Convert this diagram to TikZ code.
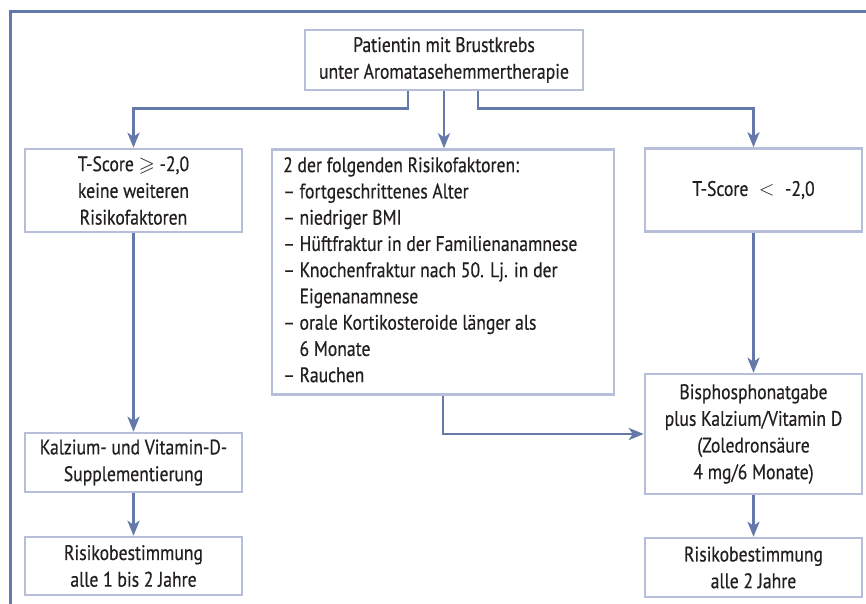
\documentclass[tikz,border=0pt]{standalone}
\usepackage{amssymb}
\usepackage{fontspec}
\setmainfont[FakeStretch=0.84,FakeBold=0.5]{PT Sans}
\usetikzlibrary{arrows.meta}
\definecolor{framec}{HTML}{6478AA}
\definecolor{boxline}{HTML}{B6BEDA}
\definecolor{txt}{HTML}{231F20}
\begin{document}
\begin{tikzpicture}[x=1pt,y=-1pt,
  box/.style={draw=boxline, line width=2.5pt, inner sep=0pt, align=center, text=txt,
    font=\fontsize{21}{26.7}\selectfont},
  conn/.style={draw=framec, line width=2.8pt, -{Stealth[length=15pt,width=12pt,inset=4pt]}},
  lbl/.style={inner sep=0pt, text=txt, font=\fontsize{21}{26.25}\selectfont},
]
\useasboundingbox (0,0) rectangle (866,603);
% outer frame (right and bottom edges outside the picture)
\draw[draw=framec, line width=3pt] (10,610) -- (10,11) -- (875,11);

\node[box, minimum width=278pt, minimum height=60pt] (top) at (444,60)
  {Patientin mit Brustkrebs\\unter Aromatasehemmertherapie};
\node[box, minimum width=217pt, minimum height=83pt] (tsl) at (133.5,190.5)
  {T-Score $\geqslant$ -2,0\\keine weiteren\\Risikofaktoren};
\node[box, minimum width=342pt, minimum height=245pt] (mid) at (443,272) {};
\node[lbl, anchor=north west, align=left] (midtext) at (283,157)
  {2 der folgenden Risikofaktoren:\\
   – fortgeschrittenes Alter\\
   – niedriger BMI\\
   – Hüftfraktur in der Familienanamnese\\
   – Knochenfraktur nach 50. Lj. in der\\
   \hphantom{– }Eigenanamnese\\
   – orale Kortikosteroide länger als\\
   \hphantom{– }6 Monate\\
   – Rauchen};
\node[box, minimum width=217pt, minimum height=83pt] (tsr) at (753.5,190)
  {T-Score $\;<\;$ -2,0};
\node[box, minimum width=217pt, minimum height=59pt] (kal) at (133.5,462.5)
  {Kalzium- und Vitamin-D-\\Supplementierung};
\node[box, minimum width=217pt, minimum height=58pt] (r1) at (133.5,566)
  {Risikobestimmung\\alle 1 bis 2 Jahre};
\node[box, minimum width=217pt, minimum height=120pt] (bis) at (753.5,434)
  {Bisphosphonatgabe\\plus Kalzium/Vitamin D\\(Zoledronsäure\\4 mg/6 Monate)};
\node[box, minimum width=217pt, minimum height=59pt] (r2) at (753.5,567.5)
  {Risikobestimmung\\alle 2 Jahre};

\draw[conn] ([xshift=-36pt]top.south) -- ++(0,17) -| (tsl.north);
\draw[conn] (top.south) -- (top.south |- mid.north);
\draw[conn] ([xshift=34pt]top.south) -- ++(0,17) -| (tsr.north);
\draw[conn] (tsl.south) -- (kal.north);
\draw[conn] (kal.south) -- (r1.north);
\draw[conn] (tsr.south) -- (bis.north);
\draw[conn] (bis.south) -- (r2.north);
\draw[conn] (mid.south) -- ++(0,39) -- (mid.south |- bis.west) -- (bis.west);
\end{tikzpicture}
\end{document}
